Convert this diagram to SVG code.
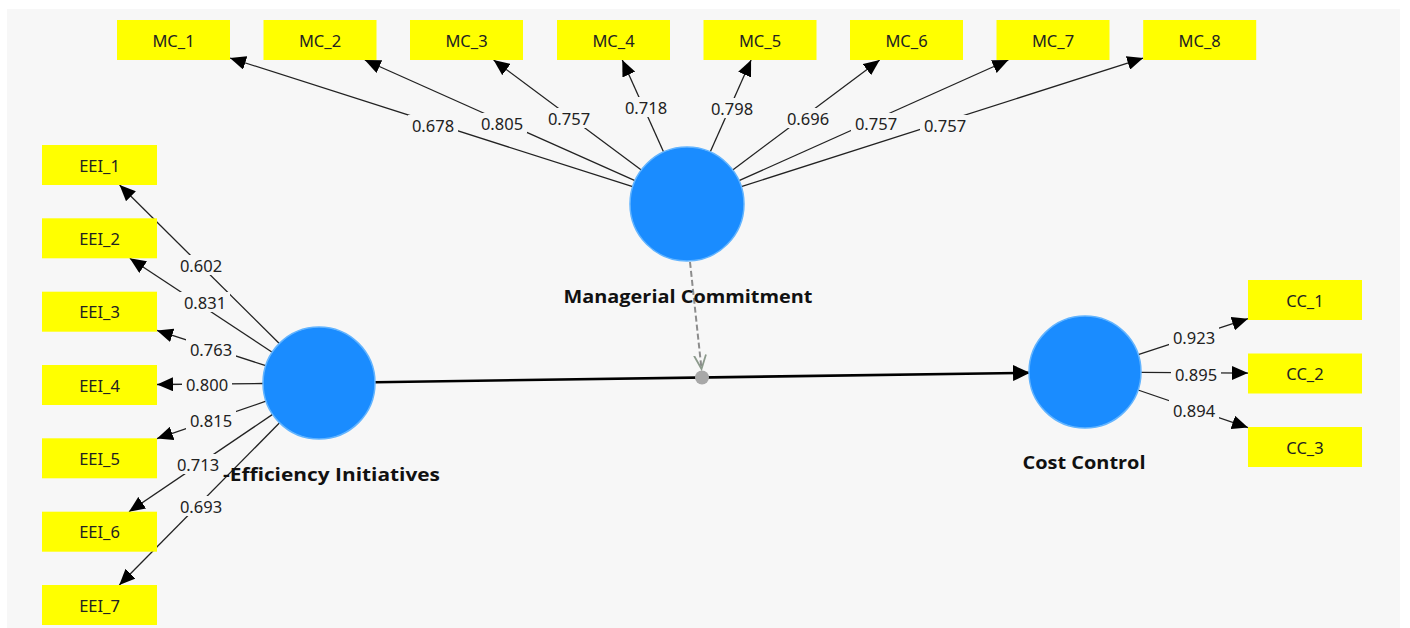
<svg xmlns="http://www.w3.org/2000/svg" width="1410" height="628" viewBox="0 0 1410 628">
<defs>
<style>
.bg{fill:#f7f7f7}
.box{fill:#ffff00}
.bt{font-family:"Noto Sans","Open Sans",sans-serif;font-size:16.5px;fill:#222;text-anchor:middle;dominant-baseline:central}
.lv{fill:#f7f7f7}
.lt{font-family:"Noto Sans","Open Sans",sans-serif;font-size:16.5px;fill:#222;text-anchor:middle;dominant-baseline:central}
.ld{stroke:#222;stroke-width:1.3;fill:none;marker-end:url(#ah)}
.lat{fill:#1a8cff;stroke:#62b4ff;stroke-width:1.5}
.nm{font-family:"Open Sans","Noto Sans",sans-serif;font-size:17px;font-weight:bold;fill:#111}
</style>
<marker id="ah" markerUnits="userSpaceOnUse" markerWidth="18" markerHeight="14" refX="16" refY="7" orient="auto">
<path d="M0,0 L16,7 L0,14 Z" fill="#000"/>
</marker>
<marker id="ah2" markerUnits="userSpaceOnUse" markerWidth="18" markerHeight="16" refX="17" refY="8" orient="auto">
<path d="M0,0 L17,8 L0,16 Z" fill="#000"/>
</marker>
<marker id="vh" markerUnits="userSpaceOnUse" markerWidth="16" markerHeight="14" refX="14" refY="7" orient="auto">
<path d="M0,1 L14,7 L0,13" fill="none" stroke="#8c9a8c" stroke-width="1.8"/>
</marker>
</defs>
<rect x="0" y="0" width="1410" height="628" fill="#ffffff"/>
<rect class="bg" x="7" y="9" width="1393" height="619"/>

<g id="connectors">
<line class="ld" x1="632.7" y1="186.7" x2="230" y2="58"/>
<line class="ld" x1="635" y1="180.7" x2="364.8" y2="60"/>
<line class="ld" x1="641.3" y1="170" x2="493.6" y2="60"/>
<line class="ld" x1="663.6" y1="152" x2="622.3" y2="60"/>
<line class="ld" x1="710.2" y1="151.9" x2="751.1" y2="60"/>
<line class="ld" x1="732.7" y1="169.9" x2="879.7" y2="60"/>
<line class="ld" x1="739" y1="180.7" x2="1008.4" y2="60"/>
<line class="ld" x1="741.3" y1="186.6" x2="1143.2" y2="58.1"/>

<line class="ld" x1="279.3" y1="343.5" x2="119.6" y2="185"/>
<line class="ld" x1="272.2" y1="352.2" x2="129.8" y2="258.3"/>
<line class="ld" x1="265.7" y1="365.7" x2="157" y2="330.4"/>
<line class="ld" x1="263" y1="383.5" x2="157" y2="384.5"/>
<line class="ld" x1="266" y1="401.2" x2="157" y2="438.6"/>
<line class="ld" x1="272.6" y1="414.4" x2="129" y2="511.7"/>
<line class="ld" x1="279.6" y1="422.8" x2="119.3" y2="585"/>

<line class="ld" x1="1138.2" y1="354.6" x2="1248" y2="318.7"/>
<line class="ld" x1="1141" y1="372.4" x2="1248" y2="373.1"/>
<line class="ld" x1="1138" y1="390" x2="1248" y2="427.6"/>

<line x1="375" y1="382.2" x2="1030" y2="372.8" stroke="#000" stroke-width="2.6" marker-end="url(#ah2)"/>
<line x1="690" y1="262" x2="701.5" y2="369" stroke="#8c8c8c" stroke-width="2" stroke-dasharray="6,3" marker-end="url(#vh)"/>
<circle cx="702" cy="377.5" r="7" fill="#a8a8a8"/>

<g id="loadings">
<rect class="lv" x="408" y="115" width="50" height="20"/><text class="lt" x="433" y="125">0.678</text>
<rect class="lv" x="477" y="113" width="50" height="20"/><text class="lt" x="502" y="123">0.805</text>
<rect class="lv" x="544" y="108" width="50" height="20"/><text class="lt" x="569" y="118">0.757</text>
<rect class="lv" x="621" y="97" width="50" height="20"/><text class="lt" x="646" y="107">0.718</text>
<rect class="lv" x="707" y="98" width="50" height="20"/><text class="lt" x="732" y="108">0.798</text>
<rect class="lv" x="783" y="108" width="50" height="20"/><text class="lt" x="808" y="118">0.696</text>
<rect class="lv" x="851" y="113" width="50" height="20"/><text class="lt" x="876" y="123">0.757</text>
<rect class="lv" x="920" y="115" width="50" height="20"/><text class="lt" x="945" y="125">0.757</text>

<rect class="lv" x="176" y="255" width="50" height="20"/><text class="lt" x="201" y="265">0.602</text>
<rect class="lv" x="180" y="292" width="50" height="20"/><text class="lt" x="205" y="302">0.831</text>
<rect class="lv" x="186" y="339" width="50" height="20"/><text class="lt" x="211" y="349">0.763</text>
<rect class="lv" x="182" y="374" width="50" height="20"/><text class="lt" x="207" y="384">0.800</text>
<rect class="lv" x="186" y="410" width="50" height="20"/><text class="lt" x="211" y="420">0.815</text>
<rect class="lv" x="173" y="454" width="50" height="20"/><text class="lt" x="198" y="464">0.713</text>
<rect class="lv" x="176" y="496" width="50" height="20"/><text class="lt" x="201" y="506">0.693</text>

<rect class="lv" x="1169" y="327" width="50" height="20"/><text class="lt" x="1194" y="337">0.923</text>
<rect class="lv" x="1171" y="364" width="50" height="20"/><text class="lt" x="1196" y="374">0.895</text>
<rect class="lv" x="1169" y="400" width="50" height="20"/><text class="lt" x="1194" y="410">0.894</text>
</g>
</g>

<g id="MC_1"><rect class="box" x="117" y="20" width="113" height="40"/><text class="bt" x="173.5" y="40">MC_1</text></g>
<g id="MC_2"><rect class="box" x="263.5" y="20" width="113" height="40"/><text class="bt" x="320" y="40">MC_2</text></g>
<g id="MC_3"><rect class="box" x="410" y="20" width="113" height="40"/><text class="bt" x="466.5" y="40">MC_3</text></g>
<g id="MC_4"><rect class="box" x="557" y="20" width="113" height="40"/><text class="bt" x="613.5" y="40">MC_4</text></g>
<g id="MC_5"><rect class="box" x="703.5" y="20" width="113" height="40"/><text class="bt" x="760" y="40">MC_5</text></g>
<g id="MC_6"><rect class="box" x="850" y="20" width="113" height="40"/><text class="bt" x="906.5" y="40">MC_6</text></g>
<g id="MC_7"><rect class="box" x="996.5" y="20" width="113" height="40"/><text class="bt" x="1053" y="40">MC_7</text></g>
<g id="MC_8"><rect class="box" x="1143.2" y="20" width="113" height="40"/><text class="bt" x="1199.7" y="40">MC_8</text></g>

<g id="EEI_1"><rect class="box" x="42" y="145" width="115" height="40"/><text class="bt" x="99.5" y="165">EEI_1</text></g>
<g id="EEI_2"><rect class="box" x="42" y="218.3" width="115" height="40"/><text class="bt" x="99.5" y="238.3">EEI_2</text></g>
<g id="EEI_3"><rect class="box" x="42" y="291.7" width="115" height="40"/><text class="bt" x="99.5" y="311.7">EEI_3</text></g>
<g id="EEI_4"><rect class="box" x="42" y="365" width="115" height="40"/><text class="bt" x="99.5" y="385">EEI_4</text></g>
<g id="EEI_5"><rect class="box" x="42" y="438.3" width="115" height="40"/><text class="bt" x="99.5" y="458.3">EEI_5</text></g>
<g id="EEI_6"><rect class="box" x="42" y="511.7" width="115" height="40"/><text class="bt" x="99.5" y="531.7">EEI_6</text></g>
<g id="EEI_7"><rect class="box" x="42" y="585" width="115" height="40"/><text class="bt" x="99.5" y="605">EEI_7</text></g>

<g id="CC_1"><rect class="box" x="1248" y="280" width="114" height="40"/><text class="bt" x="1305" y="300">CC_1</text></g>
<g id="CC_2"><rect class="box" x="1248" y="353.5" width="114" height="40"/><text class="bt" x="1305" y="373.5">CC_2</text></g>
<g id="CC_3"><rect class="box" x="1248" y="427" width="114" height="40"/><text class="bt" x="1305" y="447">CC_3</text></g>

<g id="ManagerialCommitment"><circle class="lat" cx="687" cy="204" r="57"/><text class="nm" x="688" y="303" text-anchor="middle" textLength="249" lengthAdjust="spacingAndGlyphs">Managerial Commitment</text></g>
<g id="EcoEfficiencyInitiatives"><circle class="lat" cx="319" cy="383" r="56"/><text class="nm" x="223" y="481" textLength="217" lengthAdjust="spacingAndGlyphs">-Efficiency Initiatives</text></g>
<g id="CostControl"><circle class="lat" cx="1085" cy="372" r="56"/><text class="nm" x="1084" y="469" text-anchor="middle" textLength="123" lengthAdjust="spacingAndGlyphs">Cost Control</text></g>
</svg>
